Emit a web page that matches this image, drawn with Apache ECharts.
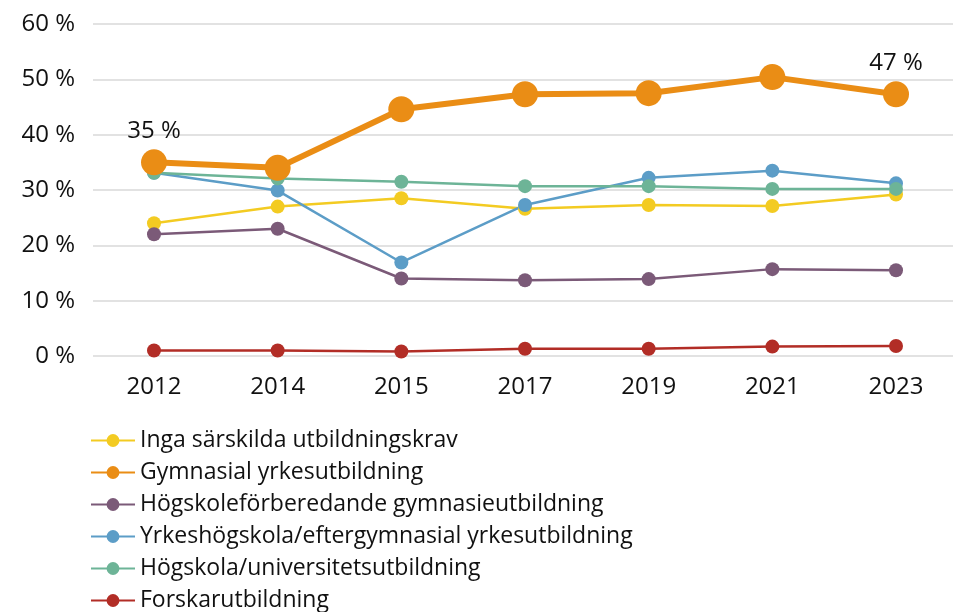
<!DOCTYPE html>
<html><head><meta charset="utf-8">
<script src="https://cdn.jsdelivr.net/npm/echarts@6/dist/echarts.min.js"></script>
<style>html,body{margin:0;padding:0;background:#fff}#c{width:953px;height:612px}</style>
</head><body><div id="c"></div>
<script>
var years = ['2012','2014','2015','2017','2019','2021','2023'];
var yTicks = [0,10,20,30,40,50,60];
var ingaKrav = [24.0, 27.0, 28.5, 26.6, 27.3, 27.1, 29.2];
var gymYrke = [35.0, 34.0, 44.6, 47.3, 47.5, 50.4, 47.3];
var hogskoleforb = [22.0, 23.0, 14.0, 13.7, 13.9, 15.7, 15.5];
var yrkeshogskola = [33.1, 29.9, 16.9, 27.3, 32.2, 33.5, 31.2];
var hogskolaUniv = [33.1, 32.1, 31.5, 30.7, 30.7, 30.2, 30.2];
var forskar = [1.0, 1.0, 0.8, 1.3, 1.3, 1.7, 1.8];
var names = ['Inga särskilda utbildningskrav','Gymnasial yrkesutbildning','Högskoleförberedande gymnasieutbildning','Yrkeshögskola/eftergymnasial yrkesutbildning','Högskola/universitetsutbildning','Forskarutbildning'];
var colors = ['#F3CB22','#EA8D15','#7B5A78','#5C9DC7','#6DB497','#B22D26'];

var FONT = 'Open Sans';
function thin(i, data, z){
  return {name:names[i], type:'line', xAxisIndex:1, yAxisIndex:1, data:data, z:z, symbol:'circle', symbolSize:14,
    itemStyle:{color:colors[i]}, lineStyle:{width:2.5, color:colors[i]}, emphasis:{disabled:true}};
}
var orangeData = gymYrke.map(function(v,i){
  var d = {value:v};
  if(i===0 || i===gymYrke.length-1){
    d.label = {show:true, position:'top', distance:6, formatter:Math.round(v)+' %', fontSize:24, color:'#111', fontFamily:FONT};
  }
  return d;
});
var chart = echarts.init(document.getElementById('c'));
chart.setOption({
  animation:false,
  grid:[
    {left:93, top:24, right:0, height:332, containLabel:false},
    {left:154, top:24, right:57, height:332, containLabel:false}
  ],
  xAxis:[
    {type:'category', gridIndex:0, data:years, show:false},
    {type:'category', gridIndex:1, data:years, boundaryGap:false,
      axisLine:{show:false}, axisTick:{show:false},
      axisLabel:{fontSize:24, color:'#111', fontFamily:FONT, margin:19}}
  ],
  yAxis:[
    {type:'value', gridIndex:0, min:yTicks[0], max:yTicks[yTicks.length-1], interval:10,
      axisLine:{show:false}, axisTick:{show:false},
      splitLine:{lineStyle:{color:'#d9d9d9', width:1.5}},
      axisLabel:{fontSize:24, color:'#111', fontFamily:FONT, margin:18, formatter:'{value} %'}},
    {type:'value', gridIndex:1, min:yTicks[0], max:yTicks[yTicks.length-1], interval:10, show:false,
      splitLine:{show:false}}
  ],
  legend:{orient:'vertical', left:90, top:429, height:300, padding:0, itemWidth:44, itemHeight:16, itemGap:9,
    textStyle:{fontSize:23, lineHeight:22, color:'#111', fontFamily:FONT},
    data:names},
  series:[
    thin(0, ingaKrav, 3),
    {name:names[1], type:'line', xAxisIndex:1, yAxisIndex:1, data:orangeData, z:10, symbol:'circle', symbolSize:26,
      itemStyle:{color:colors[1]}, lineStyle:{width:6, color:colors[1]}, emphasis:{disabled:true}},
    thin(2, hogskoleforb, 3),
    thin(3, yrkeshogskola, 3),
    thin(4, hogskolaUniv, 4),
    thin(5, forskar, 2)
  ]
});
</script></body></html>
